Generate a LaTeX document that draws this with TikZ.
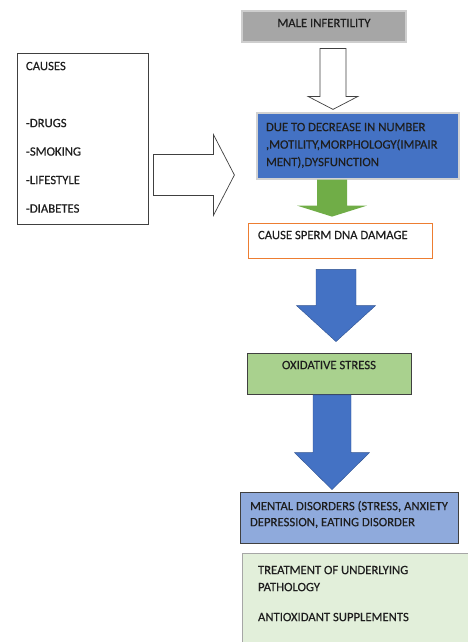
\documentclass[tikz,border=0pt]{standalone}
\usepackage{fontspec}
\setmainfont{Carlito}[FakeBold=0.35]
\usetikzlibrary{positioning,calc}
\definecolor{cGrey}{HTML}{A6A6A6}
\definecolor{cBlue}{HTML}{4472C4}
\definecolor{cBlueD}{HTML}{2F528F}
\definecolor{cBlueL}{HTML}{8FAADC}
\definecolor{cGreen}{HTML}{70AD47}
\definecolor{cGreenL}{HTML}{A9D18E}
\definecolor{cGreenXL}{HTML}{E2EFDA}
\definecolor{cOrange}{HTML}{ED7D31}
\definecolor{cEdge}{HTML}{404040}
\definecolor{cInk}{HTML}{1E1E1E}
\tikzset{
  cbox/.style={draw=cEdge,line width=0.8pt,inner sep=0pt,font=\fontsize{12.7}{15}\selectfont,text=cInk},
  hollow/.style={draw=cEdge,line width=0.7pt,fill=white,line join=miter},
  bluearr/.style={draw=cBlueD,line width=0.4pt,fill=cBlue},
  greenarr/.style={draw=none,fill=cGreen},
}
% parbox of width #1, height #2, text #3 from the top
\newcommand{\inbox}[3]{\parbox[c][#2][t]{#1}{\raggedright #3}}
% block arrows: style, top/start, tip, shaft half width, head half width, head length
\newcommand{\downblock}[6]{%
  \path[#1] let \p1=#2, \p2=#3 in
    (\x2-#4pt,\y1) -- (\x2+#4pt,\y1) -- (\x2+#4pt,\y2+#6pt) -- (\x2+#5pt,\y2+#6pt)
    -- (\p2) -- (\x2-#5pt,\y2+#6pt) -- (\x2-#4pt,\y2+#6pt) -- cycle;}
\newcommand{\rightblock}[6]{%
  \path[#1] let \p1=#2, \p2=#3 in
    (\x1,\y2+#4pt) -- (\x2-#6pt,\y2+#4pt) -- (\x2-#6pt,\y2+#5pt)
    -- (\p2) -- (\x2-#6pt,\y2-#5pt) -- (\x2-#6pt,\y2-#4pt) -- (\x1,\y2-#4pt) -- cycle;}

\begin{document}
\begin{tikzpicture}[x=1pt,y=-1pt]
  \useasboundingbox (0,0) rectangle (468,642);
  \clip (0,0) rectangle (468,642);

  \node[cbox,fill=cGrey,draw=cGrey!55,line width=1.2pt,inner ysep=7.9pt] (mi) at (324,26.5)
    {\inbox{164pt}{15.2pt}{\centering MALE INFERTILITY}};
  \node[cbox,fill=white,inner xsep=9pt,inner ysep=8.9pt] (cau) at (82.5,138.5)
    {\inbox{113pt}{153.2pt}{\setlength{\baselineskip}{28.5pt}CAUSES\\[28.5pt]-DRUGS\\-SMOKING\\-LIFESTYLE\\-DIABETES}};
  \node[cbox,fill=cBlue,draw=gray!35,line width=1.2pt,inner xsep=9pt,inner ysep=9.9pt] (due) at (358,146)
    {\inbox{184pt}{46.2pt}{\setlength{\baselineskip}{17.5pt}DUE TO DECREASE IN NUMBER\\,MOTILITY,MORPHOLOGY(IMPAIR\\MENT),DYSFUNCTION}};
  \node[cbox,fill=white,draw=cOrange,inner xsep=10pt,inner ysep=7.9pt] (dna) at (340,240.5)
    {\inbox{164pt}{19.2pt}{CAUSE SPERM DNA DAMAGE}};
  \node[cbox,fill=cGreenL,inner ysep=7.9pt] (ox) at (329,373.5)
    {\inbox{164pt}{25.2pt}{\centering OXIDATIVE STRESS}};
  \node[cbox,fill=cBlueL,inner xsep=10pt,inner ysep=8.9pt] (men) at (349,517.5)
    {\inbox{198pt}{33.2pt}{\setlength{\baselineskip}{16pt}MENTAL DISORDERS (STRESS, ANXIETY\\DEPRESSION, EATING DISORDER}};
  \node[cbox,fill=cGreenXL,draw=gray!70,inner xsep=16pt,inner ysep=12.9pt] (trt) at (386,606.5)
    {\inbox{256pt}{81.2pt}{\setlength{\baselineskip}{17pt}TREATMENT OF UNDERLYING\\PATHOLOGY\\[13pt]ANTIOXIDANT SUPPLEMENTS}};

  \downblock{hollow}{($(mi.south)+(10,6)$)}{($(due.north)+(-25,-3)$)}{13}{25}{13}
  \rightblock{hollow}{($(cau.east)+(5,36)$)}{($(due.west)+(-22,29)$)}{20.5}{40.5}{21}
  \downblock{greenarr}{($(due.south)+(-26,0)$)}{($(dna.north)+(-8,-6)$)}{15}{35}{11}
  \downblock{bluearr}{($(dna.south)+(-4,11)$)}{($(ox.north)+(7,-11)$)}{20}{39.5}{36}
  \downblock{bluearr}{($(ox.south)+(3,0.5)$)}{($(men.north)+(-17,-2)$)}{19}{37.5}{37}
\end{tikzpicture}
\end{document}
